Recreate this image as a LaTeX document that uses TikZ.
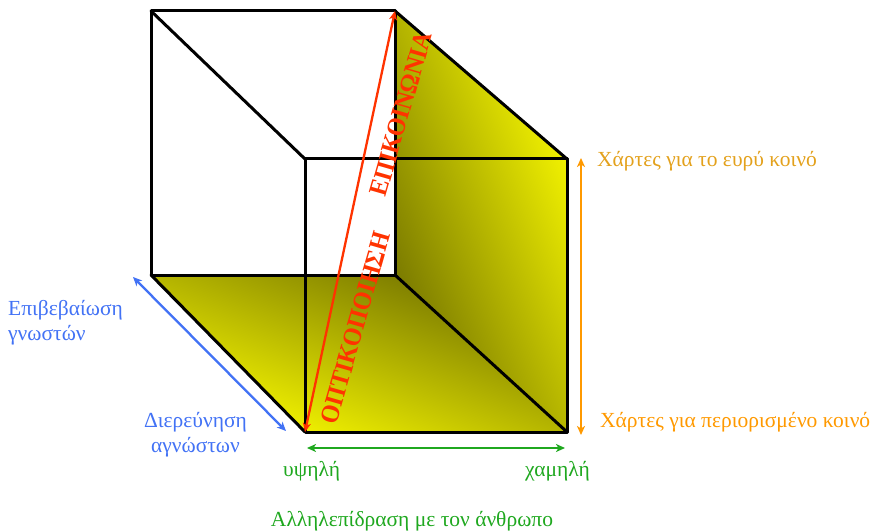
\documentclass[tikz,border=0pt]{standalone}
\usepackage{fontspec}
\setmainfont{Liberation Serif}
\usetikzlibrary{arrows.meta}
\definecolor{dk}{HTML}{6E6E00}
\definecolor{br}{HTML}{FCFC00}
\definecolor{redc}{HTML}{FF3300}
\definecolor{bluec}{HTML}{4272F5}
\definecolor{greenc}{HTML}{1FA81F}
\definecolor{orangec}{HTML}{FF9900}
\definecolor{goldc}{HTML}{E3A11C}
\begin{document}
\begin{tikzpicture}[x=1pt,y=-1pt,
  edge/.style={line width=3pt, line cap=round, line join=round},
  dbl/.style={line width=2.3pt, {Stealth[length=9pt,width=8pt,inset=2.5pt]}-{Stealth[length=9pt,width=8pt,inset=2.5pt]}},
  lbl/.style={inner sep=0pt, font=\fontsize{21.5}{24.5}\selectfont},
  ttl/.style={inner sep=0pt, font=\fontsize{26}{30}\selectfont\bfseries, text=redc}]
\useasboundingbox (0,0) rectangle (871,532);
% cube corners
\coordinate (A) at (151,11);
\coordinate (B) at (395,11);
\coordinate (C) at (395,275);
\coordinate (D) at (151,275);
\coordinate (E) at (305,159);
\coordinate (F) at (567,159);
\coordinate (G) at (567,432);
\coordinate (H) at (305,432);
% shaded faces
\shade[top color=dk, bottom color=br, shading angle=-21] (D) -- (C) -- (G) -- (H) -- cycle;
\shade[top color=br, bottom color=dk, shading angle=-68] (B) -- (F) -- (G) -- (C) -- cycle;
% edges
\draw[edge] (A) -- (B) -- (C) -- (D) -- cycle;
\draw[edge] (E) -- (F) -- (G) -- (H) -- cycle;
\draw[edge] (A) -- (E);
\draw[edge] (B) -- (F);
\draw[edge] (C) -- (G);
\draw[edge] (D) -- (H);
% arrow end points
\coordinate (bl1) at (133,277);
\coordinate (bl2) at (286,431);
\coordinate (or1) at (581,158);
\coordinate (or2) at (581,435);
\coordinate (gr1) at (307,448);
\coordinate (gr2) at (565,448);
% arrows
\draw[dbl, redc] (H) -- (B);
\draw[dbl, bluec] (bl1) -- (bl2);
\draw[dbl, orangec] (or1) -- (or2);
\draw[dbl, greenc] (gr1) -- (gr2);
% red titles
\node[ttl, rotate=74] (opt) at (355.5,328) {\scalebox{0.92}[1]{ΟΠΤΙΚΟΠΟΙΗΣΗ}};
\node[ttl, rotate=74] (com) at (401,114) {\scalebox{0.92}[1]{ΕΠΙΚΟΙΝΩΝΙΑ}};
% labels
\node[lbl, text=bluec, anchor=base west, align=left] (conf) at (8,340) {Επιβεβαίωση\\γνωστών};
\node[lbl, text=bluec, anchor=base, align=center] (expl) at (195.5,452) {Διερεύνηση\\αγνώστων};
\node[lbl, text=goldc, anchor=base west] (wide) at (597,167) {Χάρτες για το ευρύ κοινό};
\node[lbl, text=orangec, anchor=base west] (narrow) at (600,427) {Χάρτες για περιορισμένο κοινό};
\node[lbl, text=greenc, anchor=base west] (high) at (283,476) {υψηλή};
\node[lbl, text=greenc, anchor=base west] (low) at (525,476) {χαμηλή};
\node[lbl, text=greenc, anchor=base] (inter) at (412,526) {Αλληλεπίδραση με τον άνθρωπο};
\end{tikzpicture}
\end{document}
